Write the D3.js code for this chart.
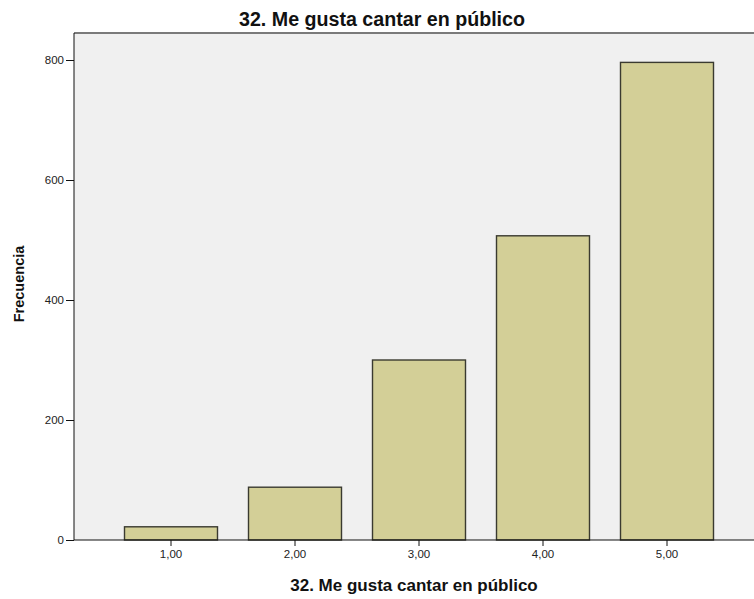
<!DOCTYPE html>
<html>
<head>
<meta charset="utf-8">
<script src="https://cdn.jsdelivr.net/npm/d3@7"></script>
<style>
  html, body { margin: 0; padding: 0; background: #ffffff; }
  svg { display: block; }
  .tick text { font-family: Arial, "Liberation Sans", sans-serif; font-size: 11.5px; fill: #222; }
</style>
</head>
<body>
<svg id="chart" width="754" height="599"></svg>
<script>
// Frequency of answers to item 32
const categories = ["1,00", "2,00", "3,00", "4,00", "5,00"];
const counts = [22, 88, 300, 507, 796];
const yTicks = [0, 200, 400, 600, 800];
const chartTitle = "32. Me gusta cantar en público";
const xTitle = "32. Me gusta cantar en público";
const yTitle = "Frecuencia";

const svg = d3.select("#chart");
const plot = { left: 74, right: 756, top: 33, bottom: 540 };

const x = d3.scaleBand()
  .domain(categories)
  .range([109, 729])
  .paddingInner(0.25)
  .paddingOuter(0.125);

const y = d3.scaleLinear()
  .domain([0, 845])
  .range([plot.bottom, plot.top]);

// plot background
svg.append("rect")
  .attr("x", plot.left).attr("y", plot.top)
  .attr("width", plot.right - plot.left).attr("height", plot.bottom - plot.top)
  .attr("fill", "#f0f0f0");

// top frame line
svg.append("line")
  .attr("x1", plot.left).attr("x2", plot.right)
  .attr("y1", plot.top).attr("y2", plot.top)
  .attr("stroke", "#7a7a7a").attr("stroke-width", 2);

// bars
svg.append("g").selectAll("rect")
  .data(categories.map((c, i) => ({ c, v: counts[i] })))
  .join("rect")
  .attr("x", d => x(d.c))
  .attr("y", d => y(d.v))
  .attr("width", x.bandwidth())
  .attr("height", d => y(0) - y(d.v))
  .attr("fill", "#d3cf97")
  .attr("stroke", "#3a3a30")
  .attr("stroke-width", 1.4);

// y axis
const yAxis = svg.append("g")
  .attr("transform", `translate(${plot.left},0)`)
  .call(d3.axisLeft(y).tickValues(yTicks).tickSize(8).tickPadding(2).tickFormat(d3.format("d")));
yAxis.select(".domain").attr("stroke", "#111").attr("d", `M0,${plot.top}V${plot.bottom}`);
yAxis.selectAll(".tick line").attr("stroke", "#111");

// x axis
const xAxis = svg.append("g")
  .attr("transform", `translate(0,${plot.bottom})`)
  .call(d3.axisBottom(x).tickSize(6).tickPadding(4));
xAxis.select(".domain").attr("stroke", "#111").attr("d", `M${plot.left},0H${plot.right}`);
xAxis.selectAll(".tick line").attr("stroke", "#111");

// chart title: condensed bold face, fitted to its width
svg.append("text")
  .attr("x", 382).attr("y", 26)
  .attr("text-anchor", "middle")
  .attr("font-family", "Arial, 'Liberation Sans', sans-serif")
  .attr("font-weight", "bold")
  .attr("font-size", 20)
  .attr("fill", "#111")
  .attr("textLength", 286)
  .attr("lengthAdjust", "spacingAndGlyphs")
  .text(chartTitle);

svg.append("text")
  .attr("x", 414).attr("y", 591)
  .attr("text-anchor", "middle")
  .attr("font-family", "Arial, 'Liberation Sans', sans-serif")
  .attr("font-weight", "bold")
  .attr("font-size", 17)
  .attr("fill", "#111")
  .text(xTitle);

svg.append("text")
  .attr("transform", `translate(24,284) rotate(-90)`)
  .attr("text-anchor", "middle")
  .attr("font-family", "Arial, 'Liberation Sans', sans-serif")
  .attr("font-weight", "bold")
  .attr("font-size", 14.5)
  .attr("fill", "#111")
  .text(yTitle);
</script>
</body>
</html>
